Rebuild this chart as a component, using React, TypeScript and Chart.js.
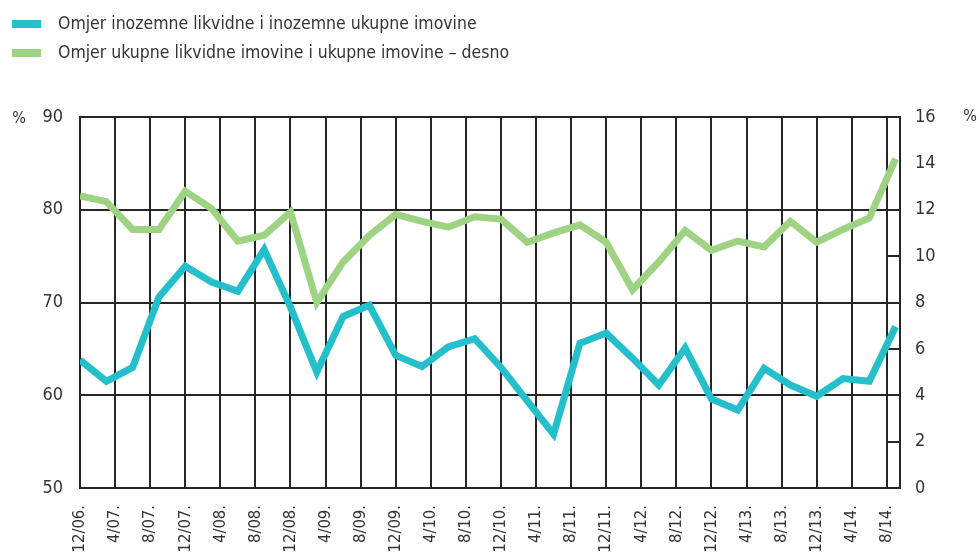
import React, { useEffect, useRef } from 'react';
import { Chart, registerables } from 'chart.js';

Chart.register(...registerables);

// Quarterly observation periods (month/year)
const periods = [
  '12/06', '3/07', '6/07', '9/07', '12/07', '3/08', '6/08', '9/08',
  '12/08', '3/09', '6/09', '9/09', '12/09', '3/10', '6/10', '9/10',
  '12/10', '3/11', '6/11', '9/11', '12/11', '3/12', '6/12', '9/12',
  '12/12', '3/13', '6/13', '9/13', '12/13', '3/14', '6/14', '9/14',
];

// Omjer inozemne likvidne i inozemne ukupne imovine (left axis, %)
const foreignLiquidRatio = [
  63.8, 61.5, 63.0, 70.6, 73.9, 72.2, 71.2, 75.7,
  69.5, 62.5, 68.5, 69.7, 64.3, 63.1, 65.2, 66.1,
  63.0, 59.4, 55.8, 65.6, 66.7, 64.0, 61.1, 65.1,
  59.6, 58.4, 62.9, 61.1, 59.9, 61.8, 61.5, 67.4,
];

// Omjer ukupne likvidne imovine i ukupne imovine (right axis, %)
const totalLiquidRatio = [
  12.6, 12.35, 11.15, 11.15, 12.8, 12.05, 10.65, 10.9,
  11.9, 8.0, 9.75, 10.9, 11.8, 11.5, 11.25, 11.7,
  11.6, 10.6, 11.0, 11.35, 10.6, 8.55, 9.75, 11.1,
  10.25, 10.65, 10.4, 11.5, 10.6, 11.15, 11.65, 14.2,
];

// X-axis tick labels (every 4 months)
const tickLabels = [
  '12/06.', '4/07.', '8/07.', '12/07.', '4/08.', '8/08.', '12/08.', '4/09.',
  '8/09.', '12/09.', '4/10.', '8/10.', '12/10.', '4/11.', '8/11.', '12/11.',
  '4/12.', '8/12.', '12/12.', '4/13.', '8/13.', '12/13.', '4/14.', '8/14.',
];

const seriesNames = [
  'Omjer inozemne likvidne i inozemne ukupne imovine',
  'Omjer ukupne likvidne imovine i ukupne imovine – desno',
];

const leftTicks = { min: 50, max: 90, step: 10 };
const rightTicks = { min: 0, max: 16, step: 2 };
const rightTickMarks = [2, 6, 10];

// months elapsed since 12/2006
const toMonth = (label: string): number => {
  const [m, y] = label.replace('.', '').split('/').map(Number);
  return (y - 6) * 12 + m - 12;
};

const FONT = "'DejaVu Sans Condensed', 'Liberation Sans Narrow', sans-serif";
const TEXT = '#333333';
const GRID = '#262626';
const CYAN = '#25BFCC';
const GREEN = '#9DD383';

export default function App() {
  const ref = useRef<HTMLCanvasElement | null>(null);

  useEffect(() => {
    if (!ref.current) return;

    const extras = {
      id: 'extras',
      beforeDatasetsDraw(chart: any) {
        const { ctx, chartArea, scales } = chart;
        const xLast = scales.x.getPixelForValue(toMonth(tickLabels[tickLabels.length - 1]));
        ctx.save();
        ctx.strokeStyle = GRID;
        ctx.lineWidth = 2;
        rightTickMarks.forEach((v) => {
          const y = Math.round(scales.y2.getPixelForValue(v));
          ctx.beginPath();
          ctx.moveTo(xLast, y);
          ctx.lineTo(chartArea.right, y);
          ctx.stroke();
        });
        ctx.restore();
      },
      afterDraw(chart: any) {
        const { ctx, chartArea } = chart;
        ctx.save();
        ctx.fillStyle = TEXT;
        ctx.font = `16px ${FONT}`;
        ctx.textAlign = 'center';
        ctx.textBaseline = 'middle';
        ctx.fillText('%', chartArea.left - 61, chartArea.top + 2);
        ctx.fillText('%', chartArea.right + 70, chartArea.top);
        ctx.restore();
      },
    };

    const chart = new Chart(ref.current, {
      type: 'line',
      data: {
        datasets: [
          {
            label: seriesNames[0],
            data: periods.map((p, i) => ({ x: toMonth(p), y: foreignLiquidRatio[i] })),
            borderColor: CYAN,
            backgroundColor: CYAN,
            borderWidth: 7,
            pointRadius: 0,
            tension: 0,
            xAxisID: 'x',
            yAxisID: 'y',
          },
          {
            label: seriesNames[1],
            data: periods.map((p, i) => ({ x: toMonth(p), y: totalLiquidRatio[i] })),
            borderColor: GREEN,
            backgroundColor: GREEN,
            borderWidth: 7,
            pointRadius: 0,
            tension: 0,
            xAxisID: 'x',
            yAxisID: 'y2',
          },
        ],
      },
      options: {
        animation: false,
        responsive: false,
        layout: { padding: { top: 7.25, left: -0.75, right: 0, bottom: 0 } },
        plugins: {
          tooltip: { enabled: false },
          legend: {
            position: 'top',
            align: 'start',
            maxWidth: 600,
            labels: {
              boxWidth: 45.5,
              boxHeight: 24.5,
              padding: 4.5,
              color: TEXT,
              font: { family: FONT, size: 17.5 },
              generateLabels: (c: any) =>
                Chart.defaults.plugins.legend.labels.generateLabels(c).map((l: any) => ({
                  ...l,
                  lineWidth: 16.5,
                  strokeStyle: '#ffffff',
                })),
            },
          },
        },
        scales: {
          spacer: {
            type: 'linear',
            position: 'top',
            display: true,
            ticks: { display: false },
            grid: { display: false, drawTicks: false },
            border: { display: false },
            afterFit: (s: any) => {
              s.height = 41.75;
            },
          },
          x: {
            type: 'linear',
            min: 0,
            max: 93.5,
            afterBuildTicks: (s: any) => {
              s.ticks = tickLabels.map((l) => ({ value: toMonth(l) }));
            },
            afterFit: (s: any) => {
              s.height = 68;
            },
            ticks: {
              autoSkip: false,
              minRotation: 90,
              maxRotation: 90,
              padding: 17,
              color: TEXT,
              font: { family: FONT, size: 16.5 },
              callback: (_v: any, i: number) => tickLabels[i],
            },
            grid: { color: GRID, lineWidth: 2, drawTicks: false },
            border: { color: GRID, width: 2 },
          },
          y: {
            position: 'left',
            min: leftTicks.min,
            max: leftTicks.max,
            afterFit: (s: any) => {
              s.width = 80.75;
            },
            ticks: {
              stepSize: leftTicks.step,
              padding: 17,
              color: TEXT,
              font: { family: FONT, size: 18 },
            },
            grid: { color: GRID, lineWidth: 2, drawTicks: false },
            border: { color: GRID, width: 2 },
          },
          y2: {
            position: 'right',
            min: rightTicks.min,
            max: rightTicks.max,
            afterFit: (s: any) => {
              s.width = 79;
            },
            ticks: {
              stepSize: rightTicks.step,
              padding: 15,
              color: TEXT,
              font: { family: FONT, size: 18 },
            },
            grid: { drawOnChartArea: false, drawTicks: false },
            border: { color: GRID, width: 2 },
          },
        },
      },
      plugins: [extras],
    } as any);

    return () => chart.destroy();
  }, []);

  return (
    <canvas
      ref={ref}
      width={979}
      height={556}
      style={{ position: 'absolute', left: 0, top: 0, display: 'block', background: '#fff' }}
    />
  );
}
